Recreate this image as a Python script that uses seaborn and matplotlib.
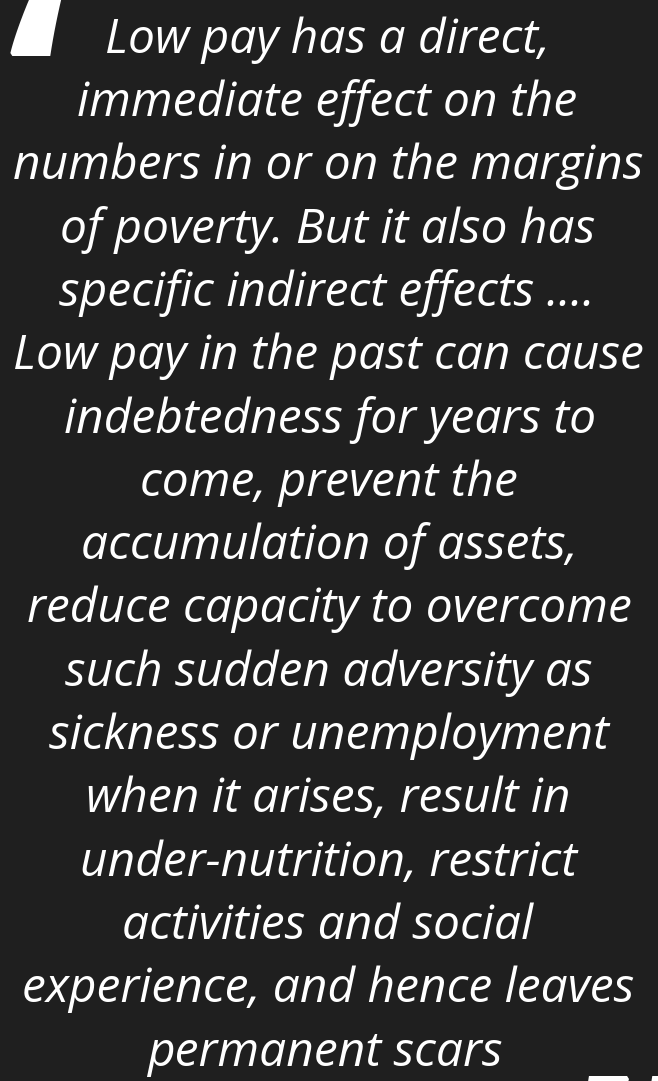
import matplotlib
matplotlib.use("Agg")
import matplotlib.pyplot as plt
import seaborn as sns

# quote text, one entry per printed line
quote_lines = [
    "Low pay has a direct,",
    "immediate effect on the",
    "numbers in or on the margins",
    "of poverty. But it also has",
    "specific indirect effects ....",
    "Low pay in the past can cause",
    "indebtedness for years to",
    "come, prevent the",
    "accumulation of assets,",
    "reduce capacity to overcome",
    "such sudden adversity as",
    "sickness or unemployment",
    "when it arises, result in",
    "under-nutrition, restrict",
    "activities and social",
    "experience, and hence leaves",
    "permanent scars",
]
line_x = [327, 327, 328, 328, 327, 328, 330, 329, 329, 329, 329, 329, 328, 329, 328, 328, 325]

BG = "#1f1f1f"

sns.set_theme(style="dark")
plt.rcParams["font.family"] = ["Open Sans", "DejaVu Sans"]

fig = plt.figure(figsize=(6.58, 10.81), dpi=100)
fig.patch.set_facecolor(BG)
ax = fig.add_axes([0, 0, 1, 1])
ax.set_facecolor(BG)
ax.set_xlim(0, 658)
ax.set_ylim(1081, 0)
ax.axis("off")

top, step = 40, 63.3
for i, (line, x) in enumerate(zip(quote_lines, line_x)):
    ax.text(x, top + i * step, line, ha="center", va="center",
            fontsize=34.5, style="italic", color="white")

# big quotation marks, partly cut off at the edges
ax.text(7, 187, "\u2018", ha="left", va="baseline", fontsize=200,
        fontweight="bold", color="white")
ax.text(572, 1275, "\u201d", ha="left", va="baseline", fontsize=200,
        fontweight="bold", color="white")

fig.savefig("out.png", dpi=100, facecolor=BG)
